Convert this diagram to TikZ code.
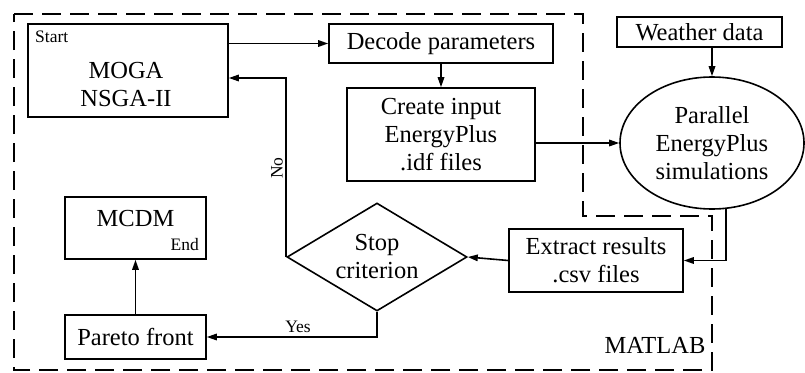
\documentclass[tikz,border=0pt]{standalone}
\usepackage{fontspec}
\setmainfont{Liberation Serif}
\usetikzlibrary{arrows.meta,shapes.geometric}
\begin{document}
\begin{tikzpicture}[x=1pt,y=-1pt,
  big/.style={font=\fontsize{24.5}{28}\selectfont, align=center, inner sep=0pt},
  small/.style={font=\fontsize{17.5}{20}\selectfont, inner sep=0pt},
  box/.style={draw, line width=1.6pt, inner sep=0pt, font=\fontsize{24.5}{28}\selectfont, align=center},
  arr/.style={line width=1.6pt, -{Triangle[length=10pt,width=6.5pt]}},
  border/.style={line width=1.6pt, dash pattern=on 19pt off 9pt}]
\useasboundingbox (0,0) rectangle (805,372);
% MATLAB border
\draw[border] (14,14) -- (583,14) -- (583,216) -- (712,216) -- (712,370) -- (14,370) -- cycle;
% boxes
\node[box, minimum width=200pt, minimum height=93pt] (moga) at (128,70.5) {};
\node[big] (mogatxt) at (126,85) {MOGA\\NSGA-II};
\node[small, anchor=west] (start) at (35,37) {Start};
\node[box, minimum width=224pt, minimum height=39pt] (decode) at (441,43.5) {Decode parameters};
\node[box, minimum width=188pt, minimum height=93pt] (create) at (441,134.5) {Create input\\EnergyPlus\\.idf files};
\node[box, minimum width=165pt, minimum height=30pt] (weather) at (699.5,32) {Weather data};
\node[box, ellipse, minimum width=184pt, minimum height=132pt] (ell) at (712,143) {Parallel\\EnergyPlus\\simulations};
\node[box, minimum width=174pt, minimum height=63pt] (extract) at (596,260.5) {Extract results\\.csv files};
\node[box, diamond, minimum width=180pt, minimum height=108pt, shape aspect=1.667] (dia) at (377,257) {Stop\\criterion};
\node[box, minimum width=141pt, minimum height=62pt] (mcdm) at (135.5,228) {};
\node[big] (mcdmtxt) at (135.5,219) {MCDM};
\node[small, anchor=east] (end) at (199,245) {End};
\node[box, minimum width=141pt, minimum height=44pt] (pareto) at (135.5,337) {Pareto front};
\node[big] (matlab) at (655,345) {MATLAB};
% connectors
\draw[arr] (moga.east |- decode.west) -- (decode.west);
\draw[arr] (decode.south) -- (create.north);
\draw[arr] (create.east |- ell.west) -- (ell.west);
\draw[arr] (weather.south -| ell.north) -- (ell.north);
\draw[arr] (ell.-78) |- (extract.east);
\draw[arr] (extract.west) -- (dia.east);
\coordinate (nobend) at (dia.west |- {(0,78)});
\draw[arr] (dia.west) -- (nobend) -- (nobend -| moga.east);
\draw[arr] (dia.south) |- (pareto.east);
\draw[arr] (pareto.north) -- (mcdm.south);
\node[small, rotate=90] (no) at (277,168) {No};
\node[small] (yes) at (298,327) {Yes};
\end{tikzpicture}
\end{document}
